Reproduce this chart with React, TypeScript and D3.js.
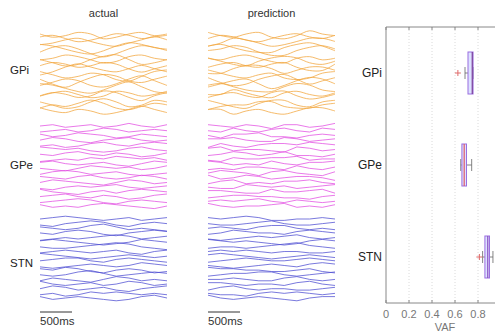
import React from "react";
import * as d3 from "d3";

const groups = ["GPi", "GPe", "STN"];
const groupColors = ["#f2a53c", "#e24fe2", "#4f4fd2"];
const vafTicks = [0, 0.2, 0.4, 0.6, 0.8];

// box stats: [whiskerLow, q1, median, q3, whiskerHigh]
const boxStats = [
  [0.687, 0.713, 0.75, 0.757, 0.757],
  [0.65, 0.66, 0.68, 0.70, 0.745],
  [0.84, 0.86, 0.885, 0.90, 0.93],
];
const outliers = [[0.625], [], [0.812]];
const medianColors = ["#7a3c9a", "#e05a6a", "#8a4fc0"];

const gpiActual = [
  [0,-2,-1,1,0,-3,-2,0,1,-1,0],[1,2,0,-2,-1,1,3,2,0,1,2],[-1,0,2,3,1,-1,-2,0,2,4,2],
  [2,1,-1,-3,-4,-2,1,3,2,0,-1],[0,3,4,2,-1,-3,-1,2,4,3,1],[-2,-1,1,0,-2,-4,-3,0,1,-1,-2],
  [1,-1,-3,-2,1,3,4,1,-2,-1,1],[0,2,1,-1,0,2,1,-2,-4,-2,0],[-3,-1,2,4,2,0,-1,1,3,1,-1],
  [2,0,-2,-1,1,0,-3,-4,-1,2,3],[0,-3,-5,-2,1,3,2,-1,-2,0,2],[-1,1,3,2,-1,-2,0,3,5,2,-1],
  [3,2,0,-2,-3,-1,2,4,1,-2,-3],[-2,0,1,-1,-3,-2,1,0,-2,-1,1],[1,3,2,0,1,4,3,0,-2,1,3],
  [0,-2,-4,-3,0,2,0,-3,-2,1,0],[-1,1,0,2,4,2,-1,-2,0,2,1],[2,0,-1,1,0,-2,-1,1,3,1,-1],
];
const gpeActual = [
  [0,1,-1,0,1,-1,0,2,0,-1,1],[-1,0,1,-1,0,2,1,-1,0,1,0],[1,-1,0,2,1,0,-2,-1,1,0,-1],
  [0,2,1,-1,-2,0,1,2,0,-1,0],[-1,0,-2,-1,1,2,0,-1,1,2,1],[2,1,0,1,-1,-2,-1,1,2,0,-1],
  [0,-1,1,2,0,-1,1,0,-2,-1,1],[-2,-1,0,-1,1,0,2,1,0,1,-1],[1,2,0,-1,0,1,-1,-2,0,2,1],
  [0,-1,-2,0,2,1,0,1,-1,0,2],[-1,1,2,1,-1,0,1,-1,-2,-1,0],[1,0,-1,1,2,0,-1,0,2,1,-1],
  [0,2,1,0,-1,-2,0,2,1,-1,0],[-1,-2,0,1,0,1,2,0,-1,0,1],[2,0,-1,-2,0,1,-1,1,2,1,0],
  [0,1,2,0,-1,1,0,-2,-1,1,2],[-1,0,1,2,1,-1,-2,0,1,0,-1],[1,-1,0,-1,1,2,1,0,-1,-2,0],
];
const stnActual = [
  [0,1,2,1,0,-1,0,1,-1,0,1],[-1,-2,0,1,2,1,-1,-2,0,1,0],[1,0,-1,0,2,3,1,-1,0,-1,-2],
  [0,-1,1,2,1,-1,-2,0,1,2,1],[-2,-1,0,-1,0,1,2,1,-1,0,1],[1,2,1,0,-1,-2,-1,0,2,1,0],
  [0,-1,-1,0,1,2,3,2,0,-1,-2],[-1,0,1,0,-1,0,1,-1,-2,0,1],[2,1,0,-1,-2,-1,0,1,0,-1,0],
  [0,1,2,2,0,-1,1,2,1,0,-1],[-1,-2,-1,0,1,0,-1,0,2,1,0],[1,0,2,1,-1,-2,0,1,0,-2,-1],
  [0,-1,0,2,3,1,-1,0,1,2,1],[-1,1,0,-1,-2,0,2,1,-1,0,-1],[2,0,-1,0,1,-1,0,2,1,-1,0],
  [0,2,1,-1,0,1,-1,-2,0,1,2],[-1,0,-2,-1,1,0,1,0,-1,0,-1],[1,-1,0,1,0,-1,-2,-1,1,2,0],
];
const gpiPred = [
  [1,-1,-2,0,1,-2,-3,-1,2,0,-1],[0,2,1,-1,-2,0,2,3,1,0,2],[-2,0,3,2,0,-2,-1,1,3,3,1],
  [1,2,0,-2,-3,-3,0,2,3,1,-2],[1,2,4,3,0,-2,-2,1,3,4,2],[-1,-2,0,1,-1,-3,-4,-1,0,-2,-1],
  [2,0,-2,-3,0,2,3,2,-1,-2,0],[-1,1,2,0,-1,1,2,-1,-3,-3,1],[-2,-2,1,3,3,1,-2,0,2,2,0],
  [3,1,-1,-2,0,1,-2,-3,-2,1,2],[1,-2,-4,-3,0,2,3,0,-3,-1,1],[-2,0,2,3,0,-3,-1,2,4,3,0],
  [2,3,1,-1,-2,-2,1,3,2,-1,-2],[-1,-1,2,0,-2,-3,0,1,-1,-2,0],[0,2,3,1,0,3,4,1,-1,0,2],
  [1,-1,-3,-4,-1,1,1,-2,-3,0,1],[-2,0,1,1,3,3,0,-1,-1,1,2],[1,1,-2,0,1,-1,-2,0,2,2,0],
];
const gpePred = [
  [1,0,-1,1,0,-2,1,1,-1,0,2],[0,-1,2,0,-1,1,2,0,-1,2,1],[0,-2,1,1,2,-1,-1,-2,0,1,0],
  [1,1,2,0,-1,-1,2,1,-1,0,1],[-2,1,-1,-2,0,1,1,0,2,1,0],[1,2,-1,0,0,-1,-2,2,1,-1,0],
  [-1,0,2,1,-1,0,2,-1,-1,-2,0],[-1,-2,1,0,0,1,1,2,-1,0,0],[2,1,-1,0,-1,2,0,-1,1,1,2],
  [-1,0,-1,1,1,0,-1,2,0,-1,1],[0,2,1,0,-2,1,2,0,-1,-2,1],[2,-1,0,2,1,-1,0,1,1,0,-2],
  [-1,1,2,-1,0,-1,1,1,2,0,-1],[0,-1,-1,2,1,0,1,-1,0,1,2],[1,1,0,-1,-1,2,0,0,1,2,-1],
  [-1,0,1,1,0,0,-1,-1,-2,0,1],[0,1,0,1,2,0,-1,1,0,-1,0],[2,0,-1,0,0,1,2,-1,0,-1,1],
];
const stnPred = [
  [1,0,1,2,1,-1,-1,0,0,1,0],[0,-1,-1,0,1,2,0,-1,-1,0,1],[0,1,0,-1,1,2,2,0,-1,0,-1],
  [-1,0,2,1,0,0,-1,1,2,1,0],[-1,-2,-1,0,1,0,1,2,0,-1,0],[2,1,0,1,0,-1,-2,-1,1,2,1],
  [-1,0,0,-1,0,1,2,3,1,0,-1],[0,1,0,1,0,-1,0,0,-1,-1,0],[1,2,1,0,-1,-2,-1,0,1,0,-1],
  [-1,0,1,2,1,0,0,1,2,1,0],[0,-1,-2,-1,0,1,0,-1,1,2,1],[2,1,1,0,0,-1,-1,0,1,-1,-2],
  [-1,0,1,1,2,2,0,-1,0,1,2],[0,0,1,0,-1,-1,1,2,0,-1,0],[1,1,0,-1,0,0,-1,1,2,0,-1],
  [-1,1,2,0,-1,0,0,-1,-1,0,1],[0,-1,-1,-2,0,1,0,1,0,-1,0],[2,0,-1,0,1,0,-1,-2,0,1,1],
];

const actualData = [gpiActual, gpeActual, stnActual];
const predData = [gpiPred, gpePred, stnPred];

const bands: [number, number][] = [[32, 113], [124, 208], [217, 300]];
const amps = [1.6, 1.3, 1.4];
const curves = [d3.curveCatmullRom, d3.curveLinear, d3.curveLinear];

function TracePanel({ data, x0, x1, title }: { data: number[][][]; x0: number; x1: number; title: string }) {
  const xs = d3.scaleLinear().domain([0, 10]).range([x0, x1]);
  return (
    <g>
      <text x={(x0 + x1) / 2} y={17} textAnchor="middle" fontSize={11} fill="#333">{title}</text>
      {data.map((traces, gi) => {
        const [top, bot] = bands[gi];
        const base = d3.scaleLinear().domain([0, traces.length - 1]).range([top + 2, bot - 2]);
        return traces.map((tr, ti) => {
          const line = d3.line<number>()
            .x((_, i) => xs(i))
            .y((v) => base(ti) - v * amps[gi])
            .curve(curves[gi]);
          return (
            <path key={`${gi}-${ti}`} d={line(tr) || ""} fill="none" stroke={groupColors[gi]}
              strokeWidth={0.9} strokeOpacity={0.85} />
          );
        });
      })}
      <line x1={x0} x2={x0 + 32} y1={312} y2={312} stroke="#333" strokeWidth={1} />
      <text x={x0} y={325} fontSize={11.5} fill="#333">500ms</text>
    </g>
  );
}

export default function App() {
  const W = 495, H = 335;
  const xV = d3.scaleLinear().domain([0, 1]).range([386, 501]);
  const yC = d3.scalePoint<string>().domain(groups).range([27, 303]).padding(0.5);
  const bh = 21;
  return (
    <svg width={W} height={H} style={{ position: "absolute", left: 0, top: 0, background: "#fff" }}
      fontFamily="Liberation Sans, Arial, sans-serif">
      <rect width={W} height={H} fill="#fff" />
      {groups.map((g, i) => (
        <text key={g} x={10} y={[74, 169, 267][i]} fontSize={11.5} fill="#222">{g}</text>
      ))}
      <TracePanel data={actualData} x0={40} x1={167} title="actual" />
      <TracePanel data={predData} x0={208} x1={335} title="prediction" />

      {/* box plot */}
      {vafTicks.slice(1).map((t) => (
        <line key={t} x1={xV(t)} x2={xV(t)} y1={27} y2={303} stroke="#d0d0d0" strokeWidth={0.8} strokeDasharray="1,2" />
      ))}
      <line x1={386} x2={W} y1={27} y2={27} stroke="#888" />
      <line x1={386} x2={W} y1={303} y2={303} stroke="#888" />
      <line x1={386} x2={386} y1={27} y2={303} stroke="#888" />
      {vafTicks.map((t) => (
        <g key={t}>
          <line x1={xV(t)} x2={xV(t)} y1={27} y2={30} stroke="#888" />
          <line x1={xV(t)} x2={xV(t)} y1={303} y2={300} stroke="#888" />
          <text x={xV(t)} y={318} textAnchor="middle" fontSize={11} fill="#777">{t === 0 ? "0" : String(t)}</text>
        </g>
      ))}
      <text x={445} y={331} textAnchor="middle" fontSize={11} fill="#777">VAF</text>
      {groups.map((g, i) => {
        const cy = yC(g) as number;
        const [wl, q1, med, q3, wh] = boxStats[i];
        return (
          <g key={g}>
            <text x={382} y={cy + 4} textAnchor="end" fontSize={12} fill="#222">{g}</text>
            <line x1={xV(wl)} x2={xV(q1)} y1={cy} y2={cy} stroke="#666" strokeWidth={0.8} />
            <line x1={xV(q3)} x2={xV(wh)} y1={cy} y2={cy} stroke="#666" strokeWidth={0.8} />
            <line x1={xV(wl)} x2={xV(wl)} y1={cy - 6} y2={cy + 6} stroke="#666" strokeWidth={0.8} />
            <line x1={xV(wh)} x2={xV(wh)} y1={cy - 6} y2={cy + 6} stroke="#666" strokeWidth={0.8} />
            <rect x={xV(q1)} y={cy - bh} width={xV(q3) - xV(q1)} height={bh * 2} fill="#dde2ff" stroke="#9a6ee0" strokeWidth={1} />
            <line x1={xV(med)} x2={xV(med)} y1={cy - bh} y2={cy + bh} stroke={medianColors[i]} strokeWidth={1.2} />
            {outliers[i].map((o, k) => (
              <g key={k} stroke="#e06a6a" strokeWidth={1}>
                <line x1={xV(o) - 3} x2={xV(o) + 3} y1={cy} y2={cy} />
                <line x1={xV(o)} x2={xV(o)} y1={cy - 3} y2={cy + 3} />
              </g>
            ))}
          </g>
        );
      })}
    </svg>
  );
}
